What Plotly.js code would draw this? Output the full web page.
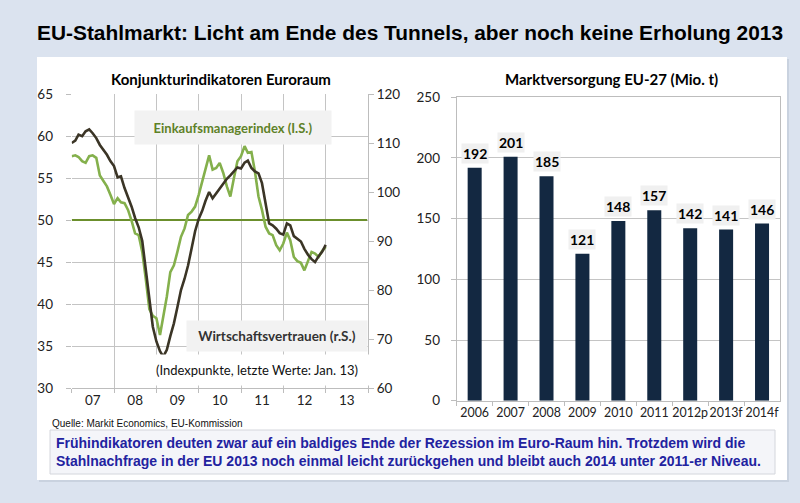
<!DOCTYPE html>
<html>
<head>
<meta charset="utf-8">
<script src="https://cdn.plot.ly/plotly-3.0.1.min.js"></script>
<style>html,body{margin:0;padding:0;background:#dbe3ef;}#chart{width:800px;height:503px;}</style>
</head>
<body>
<div id="chart"></div>
<script>
// ---- Data ----
// Monthly values Jan 2007 ... Jan 2013
const startJahr = 2007;
const einkaufsmanagerindex = [
  57.6,57.7,57.5,57.0,56.8,57.6,57.7,57.4,55.3,54.6,54.0,53.0,
  51.9,52.6,52.1,52.0,51.2,49.9,48.4,48.2,46.2,43.0,39.4,38.6,
  38.3,36.3,38.5,40.9,43.8,44.6,46.2,48.0,49.0,50.6,51.0,51.6,
  53.0,54.6,56.3,57.7,56.0,56.2,56.8,55.6,54.0,52.8,55.0,57.0,
  57.6,58.8,58.0,58.1,55.8,52.8,51.2,49.2,48.4,48.2,47.0,46.4,
  47.2,48.5,47.6,45.6,45.1,44.9,44.0,45.1,46.2,46.0,45.6,46.3,
  46.8
];
const wirtschaftsvertrauen = [
  110.0,110.5,111.7,111.4,112.4,112.8,112.0,111.0,109.6,108.7,107.6,106.3,
  105.3,103.0,103.2,100.8,99.0,97.0,94.7,92.8,90.0,84.5,78.3,72.5,
  69.5,67.5,66.4,67.8,70.6,73.2,76.5,80.0,82.3,85.0,88.5,92.0,
  94.5,96.2,98.2,100.0,98.7,99.7,100.8,101.8,102.7,103.4,104.2,105.0,
  104.8,106.0,106.4,104.9,104.2,103.8,101.8,97.3,93.6,93.2,92.5,91.6,
  91.3,93.6,93.2,91.0,90.4,89.9,88.4,87.2,86.3,85.7,86.9,87.8,
  89.2
];
const schwelleX = ['2007-01-01', '2013-12-25'];
const schwelleY = [50, 50];
const jahrLabels = ['07','08','09','10','11','12','13'];
const jahrGrenzen = ['2007','2008','2009','2010','2011','2012','2013','2014'];

const jahre = ['2006','2007','2008','2009','2010','2011','2012p','2013f','2014f'];
const marktversorgung = [192, 201, 185, 121, 148, 157, 142, 141, 146];

// ---- derived ----
const monate = einkaufsmanagerindex.map((_, i) => {
  const y = startJahr + Math.floor(i / 12);
  const m = (i % 12) + 1;
  return y + '-' + String(m).padStart(2, '0') + '-01';
});
const labelPos = jahrLabels.map((_, i) => (startJahr + i) + '-07-02');
const gridPos = jahrGrenzen.map(y => y + '-01-01');

const FONT = 'Lato, "Open Sans", sans-serif';
const ARIAL = '"Liberation Sans", Arial, sans-serif';
const GRID = '#c4c4c4';
const AX = '#bdbdbd';

const traces = [
  {x: schwelleX, y: schwelleY, type: 'scatter', mode: 'lines', xaxis: 'x', yaxis: 'y',
   line: {color: '#6b8f2c', width: 2.2}, hoverinfo: 'skip'},
  {x: monate, y: einkaufsmanagerindex, type: 'scatter', mode: 'lines', xaxis: 'x', yaxis: 'y',
   line: {color: '#84b04c', width: 2.6}},
  {x: monate, y: wirtschaftsvertrauen, type: 'scatter', mode: 'lines', xaxis: 'x', yaxis: 'y2',
   line: {color: '#3b3526', width: 2.6}},
  {x: jahre, y: marktversorgung, type: 'bar', xaxis: 'x2', yaxis: 'y3',
   marker: {color: '#132841'}}
];

const annotations = [
  {xref: 'paper', yref: 'paper', x: 410/800, y: 1 - 32/503, text: '<b>EU-Stahlmarkt: Licht am Ende des Tunnels, aber noch keine Erholung 2013</b>',
   showarrow: false, font: {family: ARIAL, size: 20.9, color: '#000'}, xanchor: 'center', yanchor: 'middle'},
  {xref: 'paper', yref: 'paper', x: 221/800, y: 1 - 79/503, text: '<b>Konjunkturindikatoren Euroraum</b>',
   showarrow: false, font: {family: FONT, size: 15, color: '#000'}, xanchor: 'center', yanchor: 'middle'},
  {xref: 'paper', yref: 'paper', x: 611/800, y: 1 - 79/503, text: '<b>Marktversorgung EU-27 (Mio. t)</b>',
   showarrow: false, font: {family: FONT, size: 15, color: '#000'}, xanchor: 'center', yanchor: 'middle'},
  {xref: 'paper', yref: 'paper', x: 233/800, y: 1 - 127/503, text: '<b>Einkaufsmanagerindex (I.S.)</b>',
   showarrow: false, font: {family: FONT, size: 13, color: '#5e8127'}, bgcolor: '#f2f2f2',
   width: 194, height: 31, xanchor: 'center', yanchor: 'middle'},
  {xref: 'paper', yref: 'paper', x: 277/800, y: 1 - 336/503, text: '<b>Wirtschaftsvertrauen (r.S.)</b>',
   showarrow: false, font: {family: FONT, size: 13.5, color: '#333'}, bgcolor: '#f2f2f2',
   width: 178, height: 28, xanchor: 'center', yanchor: 'middle'},
  {xref: 'paper', yref: 'paper', x: 257/800, y: 1 - 370/503, text: '(Indexpunkte, letzte Werte: Jan. 13)',
   showarrow: false, font: {family: FONT, size: 13, color: '#111'}, bgcolor: '#ffffff',
   width: 226, height: 28, xanchor: 'center', yanchor: 'middle'},
  {xref: 'paper', yref: 'paper', x: 50/800, y: 1 - 423/503, text: 'Quelle: Markit Economics, EU-Kommission',
   showarrow: false, font: {family: ARIAL, size: 10, color: '#111'}, xanchor: 'left', yanchor: 'middle'},
  {xref: 'paper', yref: 'paper', x: 54/800, y: 1 - 452/503,
   text: '<b>Frühindikatoren deuten zwar auf ein baldiges Ende der Rezession im Euro-Raum hin. Trotzdem wird die<br>Stahlnachfrage in der EU 2013 noch einmal leicht zurückgehen und bleibt auch 2014 unter 2011-er Niveau.</b>',
   showarrow: false, align: 'left', font: {family: ARIAL, size: 14, color: '#2222a0'}, xanchor: 'left', yanchor: 'middle'}
];

jahre.forEach((j, i) => {
  annotations.push({
    xref: 'x2', yref: 'y3', x: i, y: marktversorgung[i], text: '<b>' + marktversorgung[i] + '</b>',
    showarrow: false, yanchor: 'bottom', yshift: 4, bgcolor: '#f0f0f0', borderpad: 1,
    font: {family: FONT, size: 14, color: '#000'}
  });
});

const shapes = [
  {type: 'rect', xref: 'paper', yref: 'paper', x0: 39/800, x1: 789/800, y0: 1 - 482/503, y1: 1 - 59/503,
   fillcolor: '#c9d2df', line: {width: 0}, layer: 'below'},
  {type: 'rect', xref: 'paper', yref: 'paper', x0: 37/800, x1: 787/800, y0: 1 - 480/503, y1: 1 - 57/503,
   fillcolor: '#ffffff', line: {width: 0}, layer: 'below'},
  {type: 'rect', xref: 'paper', yref: 'paper', x0: 50/800, x1: 775/800, y0: 1 - 474/503, y1: 1 - 430/503,
   fillcolor: '#f4f5f9', line: {color: '#d4d6dc', width: 1}, layer: 'below'}
];

const layout = {
  width: 800, height: 503, autosize: false,
  margin: {l: 0, r: 0, t: 0, b: 0, pad: 0},
  paper_bgcolor: '#dbe3ef', plot_bgcolor: 'rgba(0,0,0,0)',
  showlegend: false,
  font: {family: FONT, size: 13, color: '#333'},
  bargap: 0.61,
  xaxis: {
    domain: [71.7/800, 368/800], anchor: 'y', type: 'date',
    range: ['2007-01-01', '2014-01-01'],
    tickmode: 'array', tickvals: labelPos, ticktext: jahrLabels,
    showgrid: false, ticks: '', showline: true, linecolor: AX, zeroline: false,
    tickfont: {family: FONT, size: 13.5, color: '#222'},
    minor: {tickmode: 'array', tickvals: gridPos, showgrid: true, gridcolor: GRID, gridwidth: 1,
            ticks: 'outside', ticklen: 4, tickcolor: AX}
  },
  yaxis: {
    domain: [1 - 388/503, 1 - 94/503], anchor: 'x', range: [30, 65], dtick: 5,
    showgrid: true, gridcolor: GRID, zeroline: false, showline: false,
    ticks: 'outside', ticklen: 5, tickcolor: AX, ticklabelstandoff: 10,
    tickfont: {family: FONT, size: 13.5, color: '#222'}
  },
  yaxis2: {
    overlaying: 'y', side: 'right', anchor: 'x', range: [60, 120], dtick: 10,
    showgrid: false, zeroline: false, showline: true, linecolor: AX,
    ticks: 'outside', ticklen: 5, tickcolor: AX, ticklabelstandoff: 0,
    tickfont: {family: FONT, size: 13.5, color: '#222'}
  },
  xaxis2: {
    domain: [456.7/800, 780/800], anchor: 'y3', type: 'category',
    range: [-0.5, jahre.length - 0.5], tickangle: 0,
    tickson: 'boundaries', ticks: 'outside', ticklen: 4, tickcolor: AX,
    showline: true, mirror: true, linecolor: AX, showgrid: false,
    tickfont: {family: FONT, size: 12.4, color: '#222'}
  },
  yaxis3: {
    domain: [1 - 400.7/503, 1 - 97.3/503], anchor: 'x2', range: [0, 250], dtick: 50,
    showgrid: true, gridcolor: GRID, zeroline: false, showline: true, mirror: true, linecolor: AX,
    ticks: 'outside', ticklen: 5, tickcolor: AX, ticklabelstandoff: 8,
    tickfont: {family: FONT, size: 13.5, color: '#222'}
  },
  annotations: annotations,
  shapes: shapes
};

Plotly.newPlot('chart', traces, layout, {displayModeBar: false, staticPlot: true});
</script>
</body>
</html>
